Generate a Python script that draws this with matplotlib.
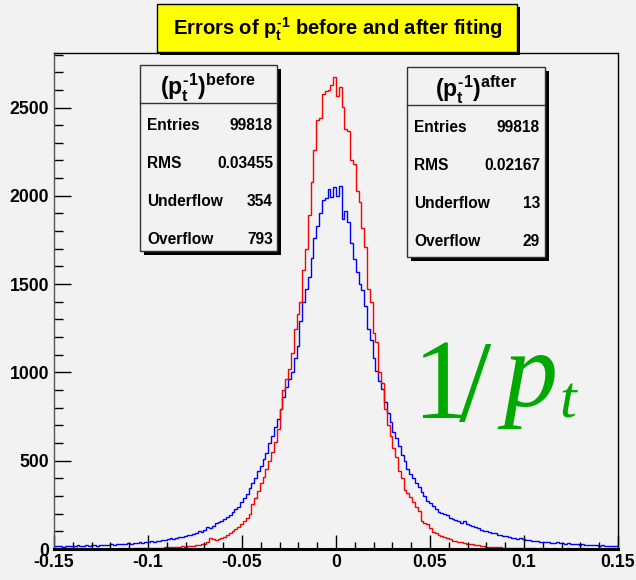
import numpy as np
import matplotlib
matplotlib.use('Agg')
import matplotlib.pyplot as plt
from matplotlib import font_manager
from matplotlib.patches import Rectangle
from matplotlib.lines import Line2D

# ---------------- data ----------------
nbins = 200
x_range = (-0.15, 0.15)

before = [18, 15, 17, 14, 16, 19, 15, 17, 20, 18,
          16, 21, 19, 23, 20, 18, 22, 25, 21, 24,
          27, 23, 29, 26, 31, 28, 33, 30, 35, 32,
          38, 35, 41, 39, 44, 42, 47, 45, 52, 50,
          56, 60, 58, 65, 70, 67, 74, 80, 77, 85,
          92, 100, 97, 110, 122, 118, 132, 145, 152, 160,
          170, 182, 195, 210, 228, 240, 268, 290, 312, 348,
          372, 400, 440, 470, 510, 545, 600, 640, 690, 735,
          790, 860, 915, 960, 1000, 1080, 1150, 1290, 1400, 1470,
          1540, 1650, 1760, 1830, 1900, 1975, 1990, 2040, 1995, 2050,
          2000, 2055, 1870, 1915, 1850, 1730, 1640, 1570, 1500, 1465,
          1375, 1245, 1185, 1080, 1010, 950, 905, 830, 770, 720,
          660, 630, 585, 530, 500, 455, 425, 400, 372, 350,
          320, 300, 270, 262, 245, 228, 210, 205, 198, 190,
          178, 170, 165, 158, 150, 160, 140, 135, 130, 125,
          118, 110, 102, 100, 96, 90, 88, 82, 80, 76,
          72, 70, 65, 63, 58, 60, 54, 50, 52, 47,
          45, 44, 40, 42, 38, 39, 36, 35, 37, 33,
          32, 30, 33, 29, 27, 30, 25, 26, 23, 24,
          22, 20, 23, 19, 21, 18, 17, 19, 16, 15]

after = [4, 3, 5, 2, 4, 3, 2, 4, 3, 2,
         3, 1, 2, 2, 1, 3, 1, 2, 1, 2,
         1, 2, 2, 1, 3, 2, 3, 2, 4, 3,
         4, 3, 5, 4, 6, 5, 7, 6, 8, 9,
         9, 11, 10, 12, 13, 15, 14, 17, 16, 19,
         21, 24, 26, 30, 42, 65, 58, 52, 56, 62,
         70, 78, 90, 100, 112, 125, 140, 158, 175, 200,
         255, 290, 330, 375, 410, 455, 500, 550, 605, 680,
         790, 900, 960, 1020, 1110, 1245, 1330, 1400, 1580, 1700,
         1890, 2080, 2260, 2430, 2440, 2575, 2595, 2600, 2625, 2675,
         2565, 2615, 2505, 2378, 2365, 2205, 2180, 2025, 1965, 1820,
         1710, 1470, 1400, 1225, 1170, 1005, 940, 790, 700, 640,
         570, 520, 440, 400, 335, 315, 295, 265, 240, 215,
         160, 150, 140, 120, 95, 88, 80, 72, 66, 60,
         55, 48, 45, 40, 38, 33, 30, 28, 26, 22,
         20, 18, 17, 14, 13, 11, 12, 9, 10, 8,
         7, 8, 6, 5, 6, 4, 5, 3, 4, 3,
         3, 2, 4, 2, 3, 1, 2, 3, 1, 2,
         2, 1, 3, 2, 1, 2, 1, 3, 2, 1,
         2, 1, 2, 3, 1, 2, 1, 2, 4, 2]

x_ticks = [-0.15, -0.1, -0.05, 0, 0.05, 0.1, 0.15]
x_ticklabels = ['-0.15', '-0.1', '-0.05', '0', '0.05', '0.1', '0.15']
y_ticks = [0, 500, 1000, 1500, 2000, 2500]
y_ticklabels = ['0', '500', '1000', '1500', '2000', '2500']

HY = '\u2010'  # short hyphen, as in the original superscripts
title_text = r'Errors of $p_{t}^{' + HY + r'1}$ before and after fiting'
stats_before_title = r'$(p_{t}^{' + HY + r'1})^{before}$'
stats_after_title = r'$(p_{t}^{' + HY + r'1})^{after}$'
stats_labels = ['Entries', 'RMS', 'Underflow', 'Overflow']
stats_before = ['99818', '0.03455', '354', '793']
stats_after = ['99818', '0.02167', '13', '29']
big_one, big_slash, big_p, big_sub = '1', '/', 'p', 't'

# ---------------- fonts ----------------
def has_font(name):
    try:
        font_manager.findfont(font_manager.FontProperties(family=name, weight='bold'),
                              fallback_to_default=False)
        return True
    except Exception:
        return False

if has_font('Liberation Sans Narrow'):
    FAM = 'Liberation Sans Narrow'
    WS = 1.0
else:
    FAM = 'Liberation Sans'
    WS = 0.84

plt.rcParams['font.family'] = [FAM, 'DejaVu Sans']
plt.rcParams['font.weight'] = 'bold'
plt.rcParams['mathtext.fontset'] = 'custom'
plt.rcParams['mathtext.rm'] = FAM + ':bold'
plt.rcParams['mathtext.it'] = FAM + ':bold'
plt.rcParams['mathtext.bf'] = FAM + ':bold'
plt.rcParams['mathtext.sf'] = FAM + ':bold'

W, H = 636, 580
DPI = 100
PT = 72.0 / DPI   # points per pixel

def fx(x):
    return x / W

def fy(y):
    return 1 - y / H

BG = '#f2f2f2'
fig = plt.figure(figsize=(W / DPI, H / DPI), dpi=DPI, facecolor=BG)

ax_l, ax_r, ax_t, ax_b = 54, 618, 53, 549
ax = fig.add_axes([fx(ax_l), fy(ax_b), (ax_r - ax_l) / W, (ax_b - ax_t) / H])
ax.set_facecolor(BG)

edges = np.linspace(x_range[0], x_range[1], nbins + 1)
ax.stairs(before, edges, color='#0000ff', linewidth=1.0, baseline=None)
ax.stairs(after, edges, color='#ff0000', linewidth=1.0, baseline=None)

ax.set_xlim(*x_range)
ax.set_ylim(0, 1.05 * max(max(after), max(before)))

ax.set_xticks(x_ticks)
ax.set_xticklabels(x_ticklabels)
ax.set_xticks(np.arange(-0.15, 0.1501, 0.01), minor=True)
ax.set_yticks(y_ticks)
ax.set_yticklabels(y_ticklabels)
ax.set_yticks(np.arange(0, 2801, 100), minor=True)

lab_size = 21 * WS * PT
ax.tick_params(axis='x', which='major', direction='in', length=14 * PT, width=1,
               labelsize=lab_size, pad=5 * PT, top=False)
ax.tick_params(axis='x', which='minor', direction='in', length=7 * PT, width=1, top=False)
ax.tick_params(axis='y', which='major', direction='in', length=17 * PT, width=1,
               labelsize=lab_size, pad=5 * PT, right=False)
ax.tick_params(axis='y', which='minor', direction='in', length=9 * PT, width=1, right=False)
for lab in ax.get_xticklabels() + ax.get_yticklabels():
    lab.set_fontweight('bold')

for s in ['top', 'right']:
    ax.spines[s].set_linewidth(1.0)
    ax.spines[s].set_color('black')
ax.spines['left'].set_color('#555555')
ax.spines['left'].set_linewidth(1.0)
ax.spines['bottom'].set_linewidth(2.2)
ax.spines['bottom'].set_color('black')

# ---------------- title box ----------------
def box(x0, y0, x1, y1, face, edge='black', shadow=3, lw=1.0, z=5):
    fig.patches.append(Rectangle((fx(x0 + shadow), fy(y1 + shadow)),
                                 (x1 - x0) / W, (y1 - y0) / H,
                                 transform=fig.transFigure, facecolor='black',
                                 edgecolor='none', zorder=z))
    fig.patches.append(Rectangle((fx(x0), fy(y1)), (x1 - x0) / W, (y1 - y0) / H,
                                 transform=fig.transFigure, facecolor=face,
                                 edgecolor=edge, linewidth=lw, zorder=z + 0.1))

box(157, 4, 517, 52, '#ffff00', shadow=3)
fig.text(fx(338), fy(29), title_text, ha='center', va='center',
         fontsize=24 * WS * PT, fontweight='bold', zorder=10)

# ---------------- stats boxes ----------------
def stats_box(x0, y0, x1, y1, ydiv, title, labels, values, rows_y, lab_x, val_x):
    box(x0, y0, x1, y1, BG, edge='#333333', shadow=4, lw=1.0)
    fig.lines.append(Line2D([fx(x0), fx(x1)], [fy(ydiv), fy(ydiv)],
                            transform=fig.transFigure, color='#333333',
                            linewidth=1.0, zorder=6))
    fig.text(fx((x0 + x1) / 2), fy(ydiv - 7), title, ha='center', va='baseline',
             fontsize=23 * PT, zorder=10)
    for lab, val, yy in zip(labels, values, rows_y):
        fig.text(fx(lab_x), fy(yy), lab, ha='left', va='center',
                 fontsize=18.5 * WS * PT, fontweight='bold', zorder=10)
        fig.text(fx(val_x), fy(yy), val, ha='right', va='center',
                 fontsize=18.5 * WS * PT, fontweight='bold', zorder=10)

stats_box(140, 65, 277, 251, 103, stats_before_title, stats_labels, stats_before,
          [126, 164, 201, 239], 147, 273)
stats_box(407, 67, 545, 257, 105, stats_after_title, stats_labels, stats_after,
          [127, 165, 203, 241], 414, 540)

# ---------------- big green label ----------------
GREEN = '#00a800'
SERIF = ['Liberation Serif', 'DejaVu Serif']
common = dict(ha='left', va='baseline', color=GREEN, fontweight='normal',
              family=SERIF, zorder=10)
fig.text(fx(413), fy(418), big_one, fontsize=114 * PT, **common)
fig.text(fx(459), fy(421), big_slash, fontsize=116 * PT, **common)
fig.text(fx(503), fy(406), big_p, fontsize=108 * PT, fontstyle='italic', **common)
fig.text(fx(559), fy(418), big_sub, fontsize=60 * PT, fontstyle='italic', **common)

fig.savefig('out.png', dpi=DPI, facecolor=BG)
